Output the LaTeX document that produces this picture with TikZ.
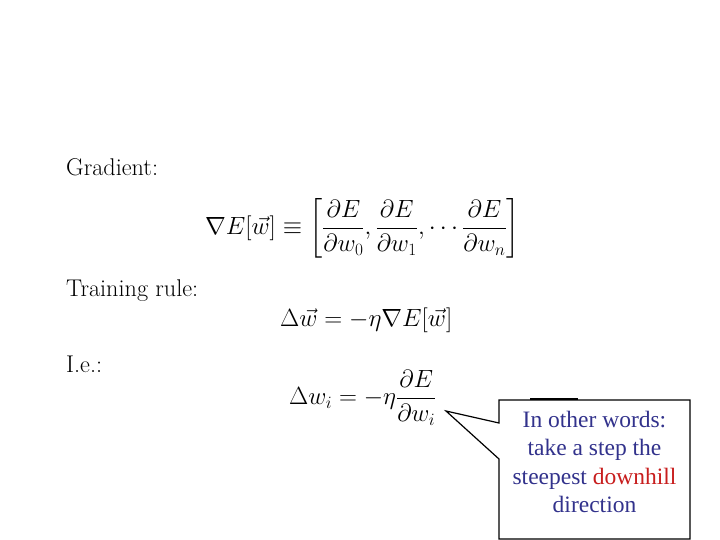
\documentclass[tikz,border=0pt]{standalone}
\usepackage{amsmath}
\usepackage{fontspec}
\newfontfamily\tnr{Liberation Serif}
\definecolor{bluetxt}{RGB}{50,50,140}
\definecolor{redtxt}{RGB}{200,30,30}
\begin{document}
\begin{tikzpicture}[x=1pt,y=-1pt,
  lbl/.style={anchor=west,inner sep=0pt,font=\fontsize{24.2}{30}\selectfont},
  eq/.style={inner sep=0pt,font=\fontsize{24.8}{30}\selectfont}]
\useasboundingbox (0,0) rectangle (720,540);
\node[lbl] (g) at (66,167) {Gradient:};
\node[eq,anchor=west] (e1) at (205,228) {$\nabla E[\vec w]\equiv\left[\dfrac{\partial E}{\partial w_0},\dfrac{\partial E}{\partial w_1},\cdots\dfrac{\partial E}{\partial w_n}\right]$};
\node[lbl] (t) at (66,291) {Training rule:};
\node[eq,anchor=west] (e2) at (280,320) {$\Delta\vec w=-\eta\nabla E[\vec w]$};
\node[lbl] (ie) at (66,364) {I.e.:};
\node[eq,anchor=west] (e3) at (289,398) {$\Delta w_i=-\eta\dfrac{\partial E}{\partial w_i}$};
\draw[line width=1.2pt,fill=white] (499,400) -- (690,400) -- (690,539) -- (499,539) -- (499,459) -- (446,411) -- (499,423) -- cycle;
\draw[line width=2pt] (530,399) -- (578,399);
\node[align=center,font=\tnr\fontsize{23.5}{28.5}\selectfont,text=bluetxt] (c) at (594.5,462) {In other words:\\take a step the\\steepest \textcolor{redtxt}{downhill}\\direction};
\end{tikzpicture}
\end{document}
